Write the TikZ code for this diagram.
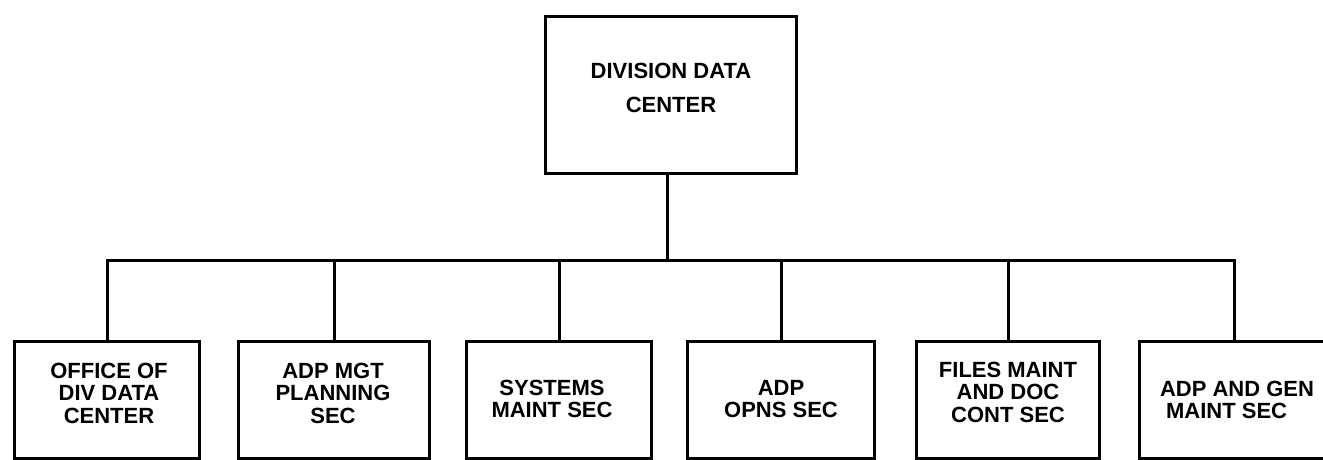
\documentclass[tikz,border=0pt]{standalone}
\usepackage{fontspec}
\setmainfont{Liberation Sans}
\begin{document}
\begin{tikzpicture}[x=1pt,y=-1pt,
  box/.style={draw, line width=3pt, inner sep=0pt, anchor=north west},
  lbl/.style={font=\bfseries\fontsize{22}{22.5}\selectfont, align=center, inner sep=0pt},
  conn/.style={line width=3pt, line join=miter}]
\useasboundingbox (0,0) rectangle (1323,459);
\clip (0,0) rectangle (1323,459);
% top box
\node[box, minimum width=251pt, minimum height=157pt] (top) at (544,15) {};
\node[lbl, font=\bfseries\fontsize{22}{34}\selectfont] (ttop) at (671,87.5) {DIVISION DATA\\CENTER};
% bottom boxes
\node[box, minimum width=185pt, minimum height=117pt] (b1) at (13,340) {};
\node[box, minimum width=191pt, minimum height=117pt] (b2) at (237,340) {};
\node[box, minimum width=185pt, minimum height=117pt] (b3) at (465,340) {};
\node[box, minimum width=187pt, minimum height=117pt] (b4) at (686,340) {};
\node[box, minimum width=183pt, minimum height=117pt] (b5) at (915,340) {};
\node[box, minimum width=190pt, minimum height=117pt] (b6) at (1138,340) {};
% labels
\node[lbl] (t1) at (109,393) {OFFICE OF\\DIV DATA\\CENTER};
\node[lbl] (t2) at (333,393) {ADP MGT\\PLANNING\\SEC};
\node[lbl] (t3) at (552,399) {SYSTEMS\\MAINT SEC};
\node[lbl] (t4) at (781,399) {ADP\\OPNS SEC};
\node[lbl] (t5) at (1008,392) {FILES MAINT\\AND DOC\\CONT SEC};
\node[lbl, align=left] (t6) at (1237,400) {ADP AND GEN\\\ MAINT SEC};
% connectors
\coordinate (j) at (667,260);
\draw[conn] (top.south -| j) -- (j);
\draw[conn] (b1.north) -- (b1.north |- j) -- (b6.north |- j) -- (b6.north);
\foreach \b in {b2,b3,b4,b5}
  \draw[conn] (\b.north) -- (\b.north |- j);
\end{tikzpicture}
\end{document}
